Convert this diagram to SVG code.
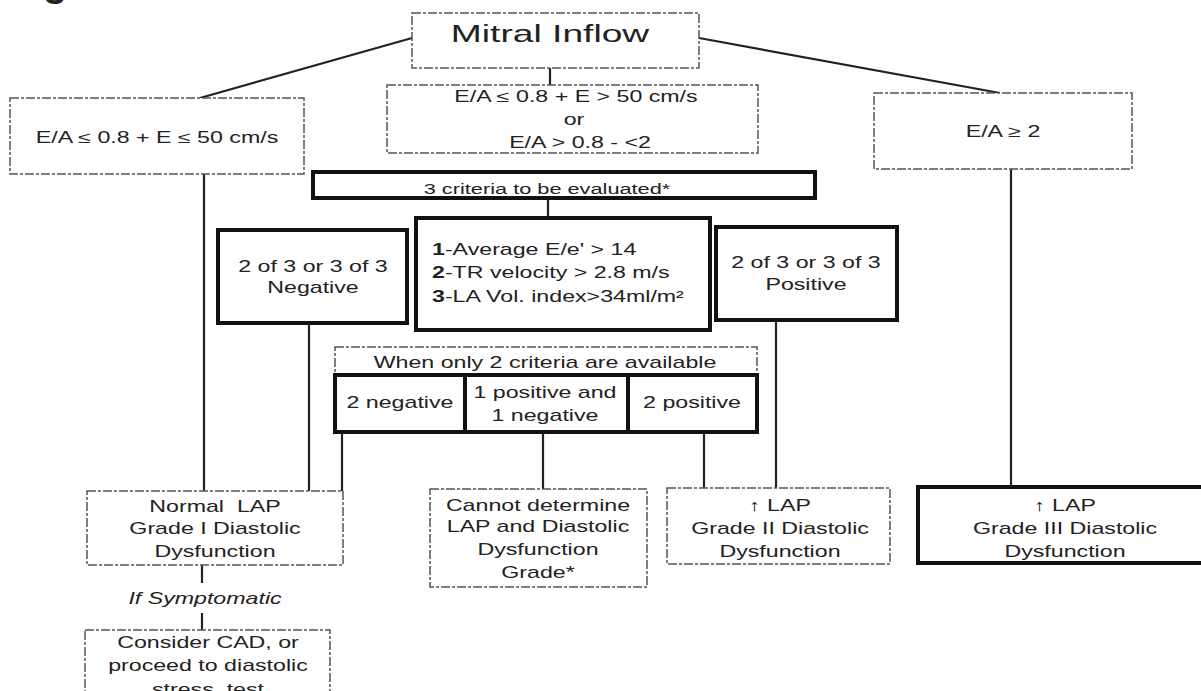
<svg xmlns="http://www.w3.org/2000/svg" width="1201" height="691" viewBox="0 0 1201 691">
<style>
.t{font-family:"Liberation Sans",Arial,sans-serif;font-size:16px;fill:#222;text-anchor:middle}
.l{text-anchor:start}
.dash{fill:#fff;stroke:#555;stroke-width:1.5;stroke-dasharray:9 2 3 2}
.thick{fill:#fff;stroke:#111;stroke-width:4}
.conn line{stroke:#222;stroke-width:2.2}
</style>
<rect width="1201" height="691" fill="#fff"/>
<text x="43" y="-4" style="font-family:'Liberation Sans',Arial,sans-serif;font-size:40px;font-weight:bold;fill:#222">g</text>
<g id="connectors" class="conn">
<line x1="412" y1="38" x2="200" y2="98"/>
<line x1="699" y1="38" x2="1000" y2="93"/>
<line x1="550" y1="68" x2="550" y2="85"/>
<line x1="548" y1="198" x2="548" y2="218"/>
<line x1="204" y1="174" x2="204" y2="491"/>
<line x1="309" y1="323" x2="309" y2="491"/>
<line x1="342" y1="432" x2="342" y2="491"/>
<line x1="543" y1="432" x2="543" y2="489"/>
<line x1="704" y1="432" x2="704" y2="488"/>
<line x1="776" y1="320" x2="776" y2="488"/>
<line x1="1011" y1="169" x2="1011" y2="487"/>
<line x1="202" y1="565" x2="202" y2="583"/>
<line x1="202" y1="613" x2="202" y2="630"/>
</g>
<g id="mitral">
<rect class="dash" x="412" y="13" width="287" height="55"/>
<text class="t" style="font-size:24px" transform="translate(550,42) scale(1.55,1)">Mitral Inflow</text>
</g>
<g id="left">
<rect class="dash" x="10" y="98" width="294" height="76"/>
<text class="t" transform="translate(157,143) scale(1.45,1)">E/A ≤ 0.8 + E ≤ 50 cm/s</text>
</g>
<g id="middle">
<rect class="dash" x="387" y="85" width="371" height="68"/>
<text class="t" transform="translate(576,102) scale(1.45,1)">E/A ≤ 0.8 + E &gt; 50 cm/s</text>
<text class="t" transform="translate(574,125) scale(1.45,1)">or</text>
<text class="t" transform="translate(580,148) scale(1.45,1)">E/A &gt; 0.8 - &lt;2</text>
</g>
<g id="right">
<rect class="dash" x="874" y="93" width="258" height="76"/>
<text class="t" transform="translate(1003,137) scale(1.45,1)">E/A ≥ 2</text>
</g>
<g id="three-criteria">
<rect class="thick" x="313" y="172" width="502" height="26"/>
<text class="t" style="font-size:15px" transform="translate(547,194) scale(1.45,1)">3 criteria to be evaluated*</text>
</g>
<g id="criteria">
<rect class="thick" x="416" y="218" width="294" height="112"/>
<text class="t l" transform="translate(432,255) scale(1.45,1)"><tspan font-weight="bold">1</tspan>-Average E/e' &gt; 14</text>
<text class="t l" transform="translate(432,278) scale(1.45,1)"><tspan font-weight="bold">2</tspan>-TR velocity &gt; 2.8 m/s</text>
<text class="t l" transform="translate(432,302) scale(1.45,1)"><tspan font-weight="bold">3</tspan>-LA Vol. index&gt;34ml/m²</text>
</g>
<g id="negative">
<rect class="thick" x="218" y="230" width="189" height="93"/>
<text class="t" transform="translate(313,272) scale(1.45,1)">2 of 3 or 3 of 3</text>
<text class="t" transform="translate(313,293) scale(1.45,1)">Negative</text>
</g>
<g id="positive">
<rect class="thick" x="716" y="227" width="181" height="93"/>
<text class="t" transform="translate(806,268) scale(1.45,1)">2 of 3 or 3 of 3</text>
<text class="t" transform="translate(806,290) scale(1.45,1)">Positive</text>
</g>
<g id="two-criteria">
<rect class="dash" x="335" y="347" width="422" height="28"/>
<text class="t" transform="translate(545,368) scale(1.45,1)">When only 2 criteria are available</text>
</g>
<g id="two-negative">
<rect class="thick" x="335" y="375" width="130" height="57"/>
<text class="t" transform="translate(400,408) scale(1.45,1)">2 negative</text>
</g>
<g id="one-each">
<rect class="thick" x="465" y="375" width="163" height="57"/>
<text class="t" transform="translate(545,398) scale(1.45,1)">1 positive and</text>
<text class="t" transform="translate(545,421) scale(1.45,1)">1 negative</text>
</g>
<g id="two-positive">
<rect class="thick" x="628" y="375" width="129" height="57"/>
<text class="t" transform="translate(692,408) scale(1.45,1)">2 positive</text>
</g>
<g id="normal">
<rect class="dash" x="87" y="491" width="256" height="74"/>
<text class="t" transform="translate(215,512) scale(1.45,1)">Normal&#160; LAP</text>
<text class="t" transform="translate(215,534) scale(1.45,1)">Grade I Diastolic</text>
<text class="t" transform="translate(215,557) scale(1.45,1)">Dysfunction</text>
</g>
<g id="symptomatic">
<text class="t" style="font-style:italic" transform="translate(205,604) scale(1.45,1)">If Symptomatic</text>
</g>
<g id="consider">
<rect class="dash" x="85" y="630" width="245" height="80"/>
<text class="t" transform="translate(208,648) scale(1.45,1)">Consider CAD, or</text>
<text class="t" transform="translate(208,671) scale(1.45,1)">proceed to diastolic</text>
<text class="t" transform="translate(208,695) scale(1.45,1)">stress&#160; test</text>
</g>
<g id="cannot">
<rect class="dash" x="430" y="489" width="217" height="98"/>
<text class="t" transform="translate(538,511) scale(1.45,1)">Cannot determine</text>
<text class="t" transform="translate(538,532) scale(1.45,1)">LAP and Diastolic</text>
<text class="t" transform="translate(538,555) scale(1.45,1)">Dysfunction</text>
<text class="t" transform="translate(538,578) scale(1.45,1)">Grade*</text>
</g>
<g id="grade2">
<rect class="dash" x="667" y="488" width="223" height="76"/>
<text class="t" transform="translate(780,511) scale(1.45,1)">↑ LAP</text>
<text class="t" transform="translate(780,534) scale(1.45,1)">Grade II Diastolic</text>
<text class="t" transform="translate(780,557) scale(1.45,1)">Dysfunction</text>
</g>
<g id="grade3">
<rect class="thick" x="918" y="487" width="300" height="76"/>
<text class="t" transform="translate(1065,511) scale(1.45,1)">↑ LAP</text>
<text class="t" transform="translate(1065,534) scale(1.45,1)">Grade III Diastolic</text>
<text class="t" transform="translate(1065,557) scale(1.45,1)">Dysfunction</text>
</g>
</svg>
